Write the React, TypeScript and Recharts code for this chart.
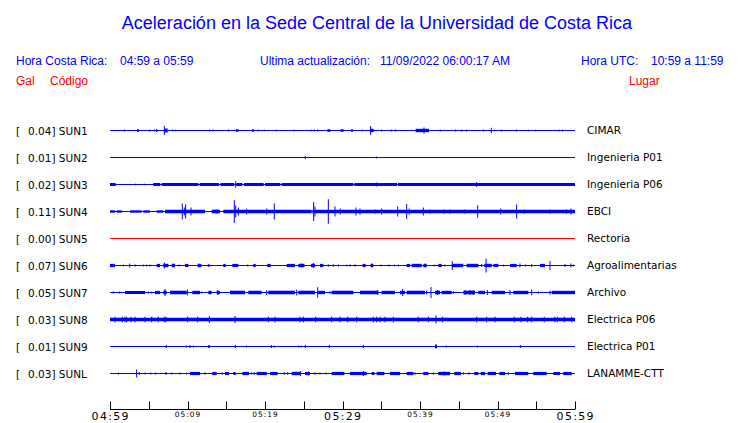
import React from 'react';
import {
  ComposedChart,
  XAxis,
  YAxis,
  Scatter,
  ErrorBar,
  ReferenceLine,
  ReferenceArea,
} from 'recharts';

// [minute after 04:59, half amplitude]
type Spike = [number, number];
// [start minute, end minute, half amplitude]
type Burst = [number, number, number];

const stations = ['SUN1', 'SUN2', 'SUN3', 'SUN4', 'SUN5', 'SUN6', 'SUN7', 'SUN8', 'SUN9', 'SUNL'];
const peaks = ['0.04', '0.01', '0.02', '0.11', '0.00', '0.07', '0.05', '0.03', '0.01', '0.03'];
const places = [
  'CIMAR', 'Ingenieria P01', 'Ingenieria P06', 'EBCI', 'Rectoria',
  'Agroalimentarias', 'Archivo', 'Electrica P06', 'Electrica P01', 'LANAMME-CTT',
];
const traceColors = ['#0000ff', '#0000ff', '#0000ff', '#0000ff', '#ff0000', '#0000ff', '#0000ff', '#0000ff', '#0000ff', '#0000ff'];

const minuteTicks = [0, 5, 10, 15, 20, 25, 30, 35, 40, 45, 50, 55, 60];
const tickLabels = ['04:59', '', '05:09', '', '05:19', '', '05:29', '', '05:39', '', '05:49', '', '05:59'];
const bigTickLabels = ['04:59', '05:29', '05:59'];

const sun1Spikes: Spike[] = [
  [1.85, 1], [5.12, 1], [5.72, 1], [7.01, 4.5], [8.09, 1], [8.43, 0.8], [12.86, 1], [13.29, 1],
  [15.31, 1], [16.04, 0.8], [19.14, 0.8], [19.91, 0.8], [21.46, 0.8], [23.78, 0.8], [25.98, 0.8],
  [26.37, 1], [26.8, 1], [32.56, 0.8], [33.63, 4.5], [35.05, 1], [36.3, 1], [36.82, 1], [40.52, 3],
  [42.62, 1], [44.56, 1], [45.38, 1], [46.02, 1], [48.17, 1], [49.2, 2.7], [49.59, 0.8], [50.49, 1],
  [52.43, 1], [53.98, 0.8], [54.88, 0.8], [57.98, 0.8], [58.37, 1],
];
const sun1Bursts: Burst[] = [
  [3.48, 3.74, 1.3], [5.94, 6.15, 1.3], [7.01, 7.44, 2], [16.26, 16.6, 1.3], [18.32, 18.58, 1.2],
  [28.04, 28.43, 1.3], [29.76, 30.15, 1.3], [31.1, 31.35, 1.3], [33.55, 34.02, 1.7], [39.44, 41.16, 1.7],
];

const sun2Spikes: Spike[] = [[25.2, 1.5], [34.37, 1]];
const sun2Bursts: Burst[] = [];

const sun3Spikes: Spike[] = [[3.31, 0.8], [4.43, 0.8], [5.8, 1.5], [16.22, 3.3], [34.41, 2], [37.2, 1.7], [47.31, 2.5]];
const sun3Bursts: Burst[] = [
  [0, 0.73, 1.5], [5.59, 6.49, 1.5], [6.67, 11.4, 1.5], [11.57, 14.06, 1.5], [14.24, 16.04, 1.5],
  [16.3, 17.08, 1.5], [17.29, 19.83, 1.5], [20, 21.98, 1.5], [22.15, 31.4, 1.5], [31.53, 37.03, 1.5],
  [37.2, 60, 1.5],
];

const sun4Spikes: Spike[] = [
  [9.33, 8], [9.59, 4], [9.76, 7], [10.45, 4], [13.81, 2], [16.04, 11.3], [16.22, 6], [16.56, 4],
  [17.63, 3], [20.22, 3], [21.2, 8], [26.28, 9.5], [26.45, 5], [28.17, 12.3], [29.03, 5], [29.72, 3],
  [31.74, 4], [32.26, 3], [34.19, 2], [35.05, 3], [37.12, 5], [38.28, 7.5], [38.62, 3], [40.43, 4],
  [41.29, 2], [43.1, 2], [43.87, 2], [45.81, 2], [47.44, 6.3], [50.41, 3], [52.47, 7], [53.46, 2],
  [56.77, 2], [58.92, 2], [59.48, 3],
];
const sun4Bursts: Burst[] = [
  [0, 0.65, 1.2], [0.86, 1.51, 1.2], [2.58, 4.09, 1.2], [4.3, 5.16, 1.2], [6.02, 6.88, 1.2],
  [7.1, 12.26, 1.8], [13.12, 14.19, 1.8], [14.62, 26.02, 1.8], [26.11, 60, 1.8],
];

const sun5Spikes: Spike[] = [];
const sun5Bursts: Burst[] = [];

const sun6Spikes: Spike[] = [
  [1.72, 1], [2.54, 2], [3.23, 1.2], [4.3, 1], [4.73, 1], [5.16, 1], [7.01, 3], [8.17, 2], [8.9, 1],
  [11.48, 2], [11.83, 1], [12.69, 1.5], [12.9, 1], [17.76, 1], [24.73, 2], [26.24, 2.5], [28.17, 1.2],
  [28.82, 1.2], [29.46, 1.2], [30.54, 1], [30.97, 1.2], [31.61, 1.2], [33.76, 2], [34.97, 1], [36, 1],
  [36.69, 1], [37.2, 1], [40.65, 2], [41.81, 1], [43.23, 1], [44.17, 4.3], [47.96, 1.5], [48.52, 7],
  [50.75, 1], [52.9, 2], [53.63, 1], [54.41, 1.5], [56.77, 4.5], [58.71, 1.5], [59.48, 2], [59.78, 1],
];
const sun6Bursts: Burst[] = [
  [0, 0.65, 1.6], [6.02, 6.45, 1.6], [6.88, 7.53, 1.7], [7.96, 8.39, 1.6], [9.68, 10.11, 1.6],
  [11.31, 11.74, 1.6], [14.62, 14.92, 1.6], [15.78, 16.56, 1.6], [18.49, 18.8, 1.6], [20.3, 20.73, 1.6],
  [22.8, 23.87, 1.6], [24.3, 25.08, 1.7], [25.94, 26.45, 1.7], [27.1, 27.53, 1.6], [32.6, 32.99, 1.6],
  [33.63, 33.98, 1.6], [38.28, 38.71, 1.6], [38.92, 40.22, 1.7], [40.43, 40.86, 1.6], [42.37, 42.8, 1.6],
  [44.09, 45.59, 1.7], [46.02, 47.53, 1.7], [48.3, 49.25, 1.7], [49.46, 50.11, 1.6], [51.61, 52.47, 1.6],
  [55.48, 56.13, 1.6],
];

const sun7Spikes: Spike[] = [
  [0.43, 1], [1.2, 1], [4.95, 1], [5.38, 1], [7.1, 3.5], [9.98, 3], [11.83, 1], [12.9, 2], [13.89, 2.5],
  [20.22, 2.5], [24.09, 3], [26.8, 5.3], [28.39, 1.2], [31.27, 1.5], [34.54, 2.5], [37.76, 3.5],
  [40.86, 2], [41.42, 5.5], [42.28, 2.5], [44.3, 1.2], [45.81, 2.5], [46.45, 2.5], [46.88, 2.5],
  [48.69, 2.5], [51.61, 2.5], [54.41, 3], [55.27, 1.2], [56.77, 2],
];
const sun7Bursts: Burst[] = [
  [1.94, 4.52, 1.5], [5.81, 6.45, 1.6], [6.88, 7.31, 1.8], [7.74, 9.89, 1.8], [10.62, 11.61, 1.7],
  [12.69, 13.12, 1.6], [13.76, 14.19, 1.6], [15.48, 17.42, 1.8], [17.85, 19.57, 1.7], [20.43, 23.87, 1.8],
  [24.3, 26.45, 1.8], [26.88, 27.74, 1.7], [28.6, 31.4, 1.8], [32.26, 34.62, 1.8], [35.05, 36.77, 1.7],
  [37.42, 38.06, 1.7], [38.28, 40.65, 1.8], [41.94, 42.58, 1.8], [42.8, 44.09, 1.7], [45.59, 47.1, 1.8],
  [47.53, 48.39, 1.7], [49.25, 50.97, 1.7], [52.04, 53.98, 1.7], [56.99, 60, 1.7],
];

const sun8Spikes: Spike[] = [
  [0.65, 2.8], [1.59, 2.8], [1.94, 2.8], [2.15, 2.8], [2.71, 2.8], [3.23, 2.8], [4.52, 2.8], [5.38, 2.8],
  [6.24, 2.8], [7.01, 2.8], [7.23, 2.8], [10.02, 2.8], [11.31, 2.8], [12.82, 3.5], [16.13, 3.5],
  [20.43, 2.8], [21.29, 2.8], [24.52, 2.8], [24.95, 2.8], [26.54, 2.8], [28.6, 2.8], [29.68, 2.8],
  [30.67, 2.8], [31.83, 2.8], [33.98, 2.8], [34.41, 2.8], [34.84, 2.8], [35.48, 2.8], [36.56, 2.8],
  [39.78, 2.8], [41.08, 2.8], [42.06, 4], [42.92, 2.8], [47.31, 2.8], [48.6, 2.8], [49.68, 2.8],
  [52.17, 2.8], [53.03, 2.8], [53.89, 2.8], [54.41, 2.8], [56.04, 2.8], [57.42, 2.8], [57.76, 2.8],
  [58.62, 2.8], [59.57, 2.8],
];
const sun8Bursts: Burst[] = [[0, 60, 1.8]];

const sun9Spikes: Spike[] = [
  [7.27, 1.5], [9.89, 1], [10.32, 1.5], [10.75, 1], [12.77, 1.5], [16.17, 1.5], [17.63, 1], [20.82, 1.5],
  [21.2, 1], [24.3, 1], [24.65, 1], [25.2, 1.5], [28.3, 1.5], [32.69, 1.5], [42.06, 2], [43.4, 1],
  [47.4, 1], [52.95, 1.5],
];
const sun9Bursts: Burst[] = [[12.69, 12.9, 1.3], [41.94, 42.19, 1.7]];

const sunlSpikes: Spike[] = [
  [1.08, 1], [3.44, 4], [3.78, 1.5], [4.52, 1], [5.25, 1], [5.89, 1], [7.23, 1.5], [7.96, 1], [9.03, 1],
  [9.89, 1], [12.26, 1.2], [14.49, 1.2], [18.28, 1.2], [18.62, 1.2], [22.49, 1.2], [22.92, 1.2],
  [24.6, 2.5], [25.59, 2], [26.45, 1.2], [27.1, 1], [27.87, 1], [32.69, 2.5], [39.35, 1.2], [41.72, 1.2],
  [43.14, 2], [45.59, 1.2], [46.32, 1.2], [51.4, 1.2],
];
const sunlBursts: Burst[] = [
  [10.32, 11.61, 1.6], [13.2, 13.76, 1.6], [14.84, 15.35, 1.5], [15.91, 16.22, 1.5], [17.08, 17.94, 1.6],
  [18.92, 20.22, 1.6], [20.65, 21.63, 1.6], [23.44, 24.52, 1.7], [25.16, 25.81, 1.6], [28.6, 30.24, 1.6],
  [30.97, 33.12, 1.6], [33.76, 34.11, 1.5], [34.41, 35.4, 1.6], [36.13, 37.42, 1.6], [38.28, 39.14, 1.6],
  [40.43, 41.08, 1.5], [42.37, 43.87, 1.7], [44.43, 45.29, 1.6], [47.01, 47.53, 1.5], [47.83, 48.39, 1.6],
  [48.73, 49.81, 1.6], [50.24, 50.97, 1.6], [52.26, 53.98, 1.6], [54.62, 56.34, 1.6], [57.2, 58.06, 1.5],
  [58.49, 59.57, 1.6],
];

const spikes = [sun1Spikes, sun2Spikes, sun3Spikes, sun4Spikes, sun5Spikes, sun6Spikes, sun7Spikes, sun8Spikes, sun9Spikes, sunlSpikes];
const bursts = [sun1Bursts, sun2Bursts, sun3Bursts, sun4Bursts, sun5Bursts, sun6Bursts, sun7Bursts, sun8Bursts, sun9Bursts, sunlBursts];

// each trace gets its own offset on the y axis (27 units apart)
const ROW = 27;
const bases = stations.map((_, i) => (stations.length - 1 - i) * ROW);
const rowOf = (v: number) => bases.indexOf(v);

const FONT = 'DejaVu Sans, Verdana, sans-serif';

const TimeTick = ({ x, y, payload }: any) => {
  const label = tickLabels[minuteTicks.indexOf(payload.value)];
  const big = bigTickLabels.includes(label);
  const lx = Math.round(x) + 0.5;
  return (
    <g>
      <line x1={lx} x2={lx} y1={y - 8} y2={y} stroke="#000" strokeWidth={1} />
      {label && (
        <text
          x={x + (big ? 0.7 : 0.5)}
          y={big ? y + 10 : y + 7.5}
          textAnchor="middle"
          fontFamily={FONT}
          fontSize={big ? 11 : 7.4}
          letterSpacing={big ? 1.3 : 1}
          fill="#000"
        >
          {label}
        </text>
      )}
    </g>
  );
};

const StationTick = ({ y, payload }: any) => {
  const i = rowOf(payload.value);
  return (
    <text y={y + 4} fontFamily={FONT} fontSize={10.5} fill="#000">
      <tspan x={16}>[</tspan>
      <tspan x={28}>{peaks[i]}] {stations[i]}</tspan>
    </text>
  );
};

const PlaceTick = ({ x, y, payload }: any) => {
  const i = rowOf(payload.value);
  return (
    <text x={x + 12} y={y + 3.5} fontFamily={FONT} fontSize={10.5} fill="#000">
      {places[i]}
    </text>
  );
};

const NoDot = () => <g />;

export default function App() {
  const blue = '#0000ff';
  return (
    <div style={{ position: 'absolute', left: 0, top: 0, width: 740, height: 423, background: '#fff' }}>
      <svg width={740} height={117} style={{ position: 'absolute', left: 0, top: 0 }}>
        <g fontFamily="Liberation Sans, Arial, Helvetica, sans-serif">
          <text x={377} y={29} textAnchor="middle" fontSize={18} fill={blue}>
            Aceleración en la Sede Central de la Universidad de Costa Rica
          </text>
          <g fontSize={12} fill={blue}>
            <text x={16} y={65}>Hora Costa Rica:</text>
            <text x={120} y={65}>04:59 a 05:59</text>
            <text x={260} y={65}>Ultima actualización:</text>
            <text x={380} y={65}>11/09/2022 06:00:17 AM</text>
            <text x={581} y={65}>Hora UTC:</text>
            <text x={651} y={65}>10:59 a 11:59</text>
          </g>
          <g fontSize={12} fill="#ff0000">
            <text x={16} y={85}>Gal</text>
            <text x={50} y={85}>Código</text>
            <text x={629} y={85}>Lugar</text>
          </g>
        </g>
      </svg>
      <ComposedChart width={740} height={423} margin={{ top: 117, right: 0, bottom: 0, left: 0 }}>
        <XAxis
          dataKey="t"
          type="number"
          domain={[0, 60]}
          ticks={minuteTicks}
          interval={0}
          allowDataOverflow
          height={13.5}
          tickSize={0}
          tickMargin={0}
          tickLine={false}
          axisLine={{ stroke: '#000' }}
          tick={(p: any) => <TimeTick {...p} />}
        />
        <YAxis
          yAxisId="l"
          dataKey="y"
          type="number"
          domain={[-36, 256.5]}
          ticks={bases}
          interval={0}
          allowDataOverflow
          width={110}
          axisLine={false}
          tickLine={false}
          tickSize={0}
          tickMargin={0}
          tick={(p: any) => <StationTick {...p} />}
        />
        <YAxis
          yAxisId="r"
          orientation="right"
          type="number"
          domain={[-36, 256.5]}
          ticks={bases}
          interval={0}
          allowDataOverflow
          width={165}
          axisLine={false}
          tickLine={false}
          tickSize={0}
          tickMargin={0}
          tick={(p: any) => <PlaceTick {...p} />}
        />
        {bases.map((b, i) => (
          <ReferenceLine key={`base-${i}`} yAxisId="l" y={b} stroke={traceColors[i]} strokeWidth={1} />
        ))}
        {bursts.flatMap((list, i) =>
          list.map(([t1, t2, h], k) => (
            <ReferenceArea
              key={`burst-${i}-${k}`}
              yAxisId="l"
              x1={t1}
              x2={t2}
              y1={bases[i] - h}
              y2={bases[i] + h}
              fill={traceColors[i]}
              fillOpacity={1}
              stroke="none"
              ifOverflow="visible"
            />
          ))
        )}
        {spikes.map((list, i) => (
          <Scatter
            key={`spikes-${i}`}
            yAxisId="l"
            data={list.map(([t, a]) => ({ t, y: bases[i], e: a }))}
            dataKey="y"
            shape={NoDot}
            isAnimationActive={false}
          >
            <ErrorBar dataKey="e" direction="y" width={0} stroke={traceColors[i]} strokeWidth={1} isAnimationActive={false} />
          </Scatter>
        ))}
      </ComposedChart>
    </div>
  );
}
